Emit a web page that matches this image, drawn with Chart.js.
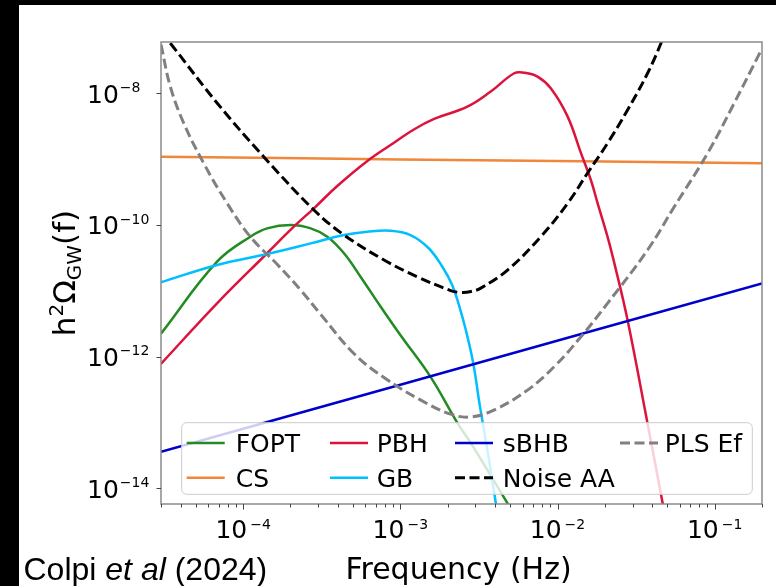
<!DOCTYPE html>
<html>
<head>
<meta charset="utf-8">
<title>GW backgrounds</title>
<script src="https://cdn.jsdelivr.net/npm/chart.js@4.4.1/dist/chart.umd.min.js"></script>
<style>
  html, body { margin: 0; padding: 0; background: #fff; }
  #wrap { position: relative; width: 776px; height: 586px; overflow: hidden; }
  #gw { position: absolute; left: 0; top: 0; }
  .bar { position: absolute; background: #000; }
</style>
</head>
<body>
<div id="wrap">
  <canvas id="gw" width="776" height="586"></canvas>
  <div class="bar" style="left:0;top:0;width:776px;height:5px"></div>
  <div class="bar" style="left:0;top:0;width:19px;height:586px"></div>
</div>
<script>
// Values: frequency (Hz) and h^2 Omega_GW
const foptFreq  = [3.0e-5, 6.82e-5, 1.11e-4, 1.42e-4, 2.0e-4, 2.69e-4, 3.43e-4, 4.38e-4, 5.58e-4, 7.50e-4, 1.0e-3, 1.56e-3, 2.31e-3, 2.81e-3, 4.81e-3, 5.05e-3];
const foptOmega = [2.24e-12, 2.77e-11, 6.64e-11, 8.89e-11, 1.0e-10, 8.89e-11, 6.64e-11, 3.72e-11, 1.64e-11, 5.73e-12, 2.13e-12, 4.90e-13, 9.82e-14, 4.88e-14, 5.92e-15, 4.68e-15];

const csFreq  = [3.0e-5, 1.0e-3, 0.2];
const csOmega = [1.09e-9, 9.9e-10, 8.65e-10];

const pbhFreq  = [3.0e-5, 6.82e-5, 1.42e-4, 2.10e-4, 2.82e-4, 3.97e-4, 6.17e-4, 8.67e-4, 1.22e-3, 1.64e-3, 2.67e-3, 3.76e-3, 5.30e-3, 6.12e-3, 7.46e-3, 9.06e-3, 1.16e-2, 1.41e-2, 1.63e-2, 1.80e-2, 2.08e-2, 2.35e-2, 2.79e-2, 3.74e-2, 4.67e-2, 4.82e-2];
const pbhOmega = [7.8e-13, 6.46e-12, 3.72e-11, 9.42e-11, 1.79e-10, 3.91e-10, 9.38e-10, 1.64e-9, 2.82e-9, 4.07e-9, 6.25e-9, 1.06e-8, 2.01e-8, 2.05e-8, 1.79e-8, 1.19e-8, 4.42e-9, 1.23e-9, 4.82e-10, 2.13e-10, 6.64e-11, 2.12e-11, 3.60e-12, 9.70e-14, 5.92e-15, 3.89e-15];

const gbFreq  = [3.0e-5, 6.82e-5, 1.42e-4, 2.69e-4, 4.38e-4, 6.17e-4, 8.67e-4, 1.16e-3, 1.51e-3, 1.85e-3, 2.14e-3, 2.36e-3, 2.61e-3, 2.91e-3, 3.20e-3, 3.58e-3, 4.05e-3, 4.17e-3];
const gbOmega = [1.35e-11, 2.47e-11, 3.62e-11, 5.26e-11, 7.05e-11, 7.91e-11, 8.18e-11, 7.03e-11, 4.47e-11, 2.32e-11, 1.22e-11, 6.08e-12, 2.54e-12, 7.93e-13, 1.84e-13, 3.81e-14, 5.92e-15, 3.31e-15];

const sbhbFreq  = [3.0e-5, 1.0e-3, 0.2];
const sbhbOmega = [3.60e-14, 3.76e-13, 1.30e-11];

const noiseFreq  = [3.0e-5, 3.44e-5, 6.82e-5, 1.35e-4, 2.82e-4, 4.38e-4, 7.87e-4, 1.28e-3, 2.09e-3, 2.42e-3, 2.81e-3, 3.25e-3, 4.81e-3, 7.83e-3, 1.16e-2, 1.55e-2, 2.08e-2, 2.79e-2, 3.74e-2, 4.55e-2, 4.83e-2];
const noiseOmega = [8.5e-8, 5.75e-8, 7.13e-9, 1.09e-9, 1.69e-10, 7.05e-11, 2.94e-11, 1.64e-11, 1.01e-11, 9.48e-12, 9.75e-12, 1.10e-11, 2.07e-11, 6.64e-11, 2.13e-10, 6.10e-10, 1.74e-9, 5.57e-9, 2.01e-8, 5.75e-8, 9.1e-8];

const plsFreq  = [3.0e-5, 3.44e-5, 4.19e-5, 5.61e-5, 7.91e-5, 1.11e-4, 1.65e-4, 2.32e-4, 3.10e-4, 5.06e-4, 7.87e-4, 1.35e-3, 2.09e-3, 2.81e-3, 3.94e-3, 6.44e-3, 9.51e-3, 1.41e-2, 2.08e-2, 3.74e-2, 5.53e-2, 9.02e-2, 1.33e-1, 1.98e-1];
const plsOmega = [5.5e-8, 1.26e-8, 3.50e-9, 8.65e-10, 2.13e-10, 6.64e-11, 2.51e-11, 1.03e-11, 4.44e-12, 1.12e-12, 4.82e-13, 2.19e-13, 1.34e-13, 1.22e-13, 1.55e-13, 3.11e-13, 7.03e-13, 2.01e-12, 6.46e-12, 4.17e-11, 1.89e-10, 1.23e-9, 7.05e-9, 4.55e-8];

// Axis ticks (decades) and their exponent labels
const xTickValues = [1e-4, 1e-3, 1e-2, 1e-1];
const xTickExps   = ['\u22124', '\u22123', '\u22122', '\u22121'];
const yTickValues = [1e-8, 1e-10, 1e-12, 1e-14];
const yTickExps   = ['\u22128', '\u221210', '\u221212', '\u221214'];

const fontSans = '"DejaVu Sans", sans-serif';
const fontNote = '"Liberation Sans", Arial, sans-serif';
const pts = (fs, om) => fs.map((f, i) => ({x: f, y: om[i]}));

// plotting order = legend order; later series on top
const datasets = [
    {label: 'FOPT',     data: pts(foptFreq, foptOmega),   borderColor: '#228b22', borderWidth: 2.5},
    {label: 'CS',       data: pts(csFreq, csOmega),       borderColor: '#f0873a', borderWidth: 2.5},
    {label: 'PBH',      data: pts(pbhFreq, pbhOmega),     borderColor: '#dc143c', borderWidth: 2.5},
    {label: 'GB',       data: pts(gbFreq, gbOmega),       borderColor: '#00bfff', borderWidth: 2.5},
    {label: 'sBHB',     data: pts(sbhbFreq, sbhbOmega),   borderColor: '#0000cd', borderWidth: 2.5},
    {label: 'Noise AA', data: pts(noiseFreq, noiseOmega), borderColor: '#000000', borderWidth: 3, borderDash: [10, 4.5]},
    {label: 'PLS Ef',   data: pts(plsFreq, plsOmega),     borderColor: '#808080', borderWidth: 3, borderDash: [10, 4.5]}
].map((d, i, all) => Object.assign({
    pointRadius: 0,
    fill: false,
    tension: 0.4,
    clip: 0,
    order: all.length - i
}, d));

// Frame, ticks with superscript labels, axis titles and the 4-column legend
const decorPlugin = {
    id: 'decor',
    afterDatasetsDraw(chart) {
        const {ctx, chartArea: a, scales: {x, y}} = chart;
        ctx.save();

        // frame
        ctx.strokeStyle = '#8a8a8a';
        ctx.lineWidth = 1.5;
        ctx.strokeRect(a.left, a.top, a.right - a.left, a.bottom - a.top);

        // tick marks
        ctx.strokeStyle = '#444';
        ctx.lineWidth = 1;
        ctx.beginPath();
        yTickValues.forEach(v => {
            const py = Math.round(y.getPixelForValue(v)) + 0.5;
            ctx.moveTo(a.left - 4.5, py);
            ctx.lineTo(a.left, py);
        });
        for (let d = 1e-5; d < 1; d *= 10) {
            for (let k = 1; k <= 9; k++) {
                const v = k * d;
                if (v < x.min || v > x.max) continue;
                const px = Math.round(x.getPixelForValue(v)) + 0.5;
                ctx.moveTo(px, a.bottom);
                ctx.lineTo(px, a.bottom + (k === 1 ? 5.5 : 3.5));
            }
        }
        ctx.stroke();

        // tick labels
        ctx.fillStyle = '#000';
        ctx.textAlign = 'left';
        ctx.textBaseline = 'alphabetic';
        yTickValues.forEach((v, i) => {
            const py = y.getPixelForValue(v);
            const lx = a.left - 74;
            ctx.font = '25px ' + fontSans;
            ctx.fillText('10', lx, py + 9.5);
            const w = ctx.measureText('10').width;
            ctx.font = '14px ' + fontSans;
            ctx.fillText(yTickExps[i], lx + w + 1, py - 1.2);
        });
        xTickValues.forEach((v, i) => {
            const px = x.getPixelForValue(v);
            ctx.font = '25px ' + fontSans;
            const w = ctx.measureText('10').width;
            ctx.font = '14px ' + fontSans;
            const ws = ctx.measureText(xTickExps[i]).width;
            const left = px - (w + 3 + ws) / 2;
            ctx.font = '25px ' + fontSans;
            ctx.fillText('10', left, a.bottom + 34);
            ctx.font = '14px ' + fontSans;
            ctx.fillText(xTickExps[i], left + w + 3, a.bottom + 24.5);
        });

        // x title
        ctx.font = '30px ' + fontSans;
        ctx.textAlign = 'center';
        ctx.fillText('Frequency (Hz)', (a.left + a.right) / 2 - 3, a.bottom + 75);

        // y title h^2 Omega_GW(f), rotated
        const parts = [['h', 31, 0], ['2', 20, -12], ['\u03a9', 31, 0], ['GW', 20, 6], ['(f)', 31, 0]];
        ctx.textAlign = 'left';
        let total = 0;
        parts.forEach(p => { ctx.font = p[1] + 'px ' + fontSans; total += ctx.measureText(p[0]).width; });
        ctx.save();
        ctx.translate(a.left - 86, (a.top + a.bottom) / 2);
        ctx.rotate(-Math.PI / 2);
        let cx = -total / 2;
        parts.forEach(p => {
            ctx.font = p[1] + 'px ' + fontSans;
            ctx.fillText(p[0], cx, p[2]);
            cx += ctx.measureText(p[0]).width;
        });
        ctx.restore();

        // legend, column-major in 4 columns x 2 rows
        const bl = a.left + 20.7, br = a.right - 9.7, bt = a.bottom - 81.3, bb = a.bottom - 9.7;
        ctx.beginPath();
        ctx.roundRect(bl, bt, br - bl, bb - bt, 5);
        ctx.fillStyle = 'rgba(255,255,255,0.8)';
        ctx.fill();
        ctx.strokeStyle = '#cccccc';
        ctx.lineWidth = 1;
        ctx.stroke();
        const lineOff = [5, 148.3, 273.3, 438.3];
        const textOff = [54, 195, 321, 483];
        const rowOff = [20.3, 55];
        chart.data.datasets.forEach((ds, i) => {
            const col = Math.floor(i / 2), row = i % 2;
            const ry = bt + rowOff[row];
            ctx.beginPath();
            ctx.setLineDash(ds.borderDash || []);
            ctx.strokeStyle = ds.borderColor;
            ctx.lineWidth = ds.borderWidth;
            ctx.moveTo(bl + lineOff[col], ry);
            ctx.lineTo(bl + lineOff[col] + 38, ry);
            ctx.stroke();
            ctx.setLineDash([]);
            ctx.fillStyle = '#000';
            ctx.font = '25px ' + fontSans;
            ctx.fillText(ds.label, bl + textOff[col], ry + 9);
        });

        // source note
        ctx.fillStyle = '#000';
        ctx.font = '32px ' + fontNote;
        let nx = 23.5;
        ctx.fillText('Colpi ', nx, 580);
        nx += ctx.measureText('Colpi ').width;
        ctx.font = 'italic 32px ' + fontNote;
        ctx.fillText('et al', nx, 580);
        nx += ctx.measureText('et al').width;
        ctx.font = '32px ' + fontNote;
        ctx.fillText(' (2024)', nx, 580);

        ctx.restore();
    }
};

new Chart(document.getElementById('gw').getContext('2d'), {
    type: 'line',
    data: {datasets: datasets},
    options: {
        responsive: false,
        animation: false,
        devicePixelRatio: 1,
        events: [],
        layout: {padding: {left: 161, right: 14, top: 42, bottom: 82}},
        plugins: {
            legend: {display: false},
            tooltip: {enabled: false}
        },
        scales: {
            x: {type: 'logarithmic', min: 3e-5, max: 0.2, bounds: 'data', display: false},
            y: {type: 'logarithmic', min: 5.8e-15, max: 6.0e-8, bounds: 'data', display: false}
        }
    },
    plugins: [decorPlugin]
});
</script>
</body>
</html>
